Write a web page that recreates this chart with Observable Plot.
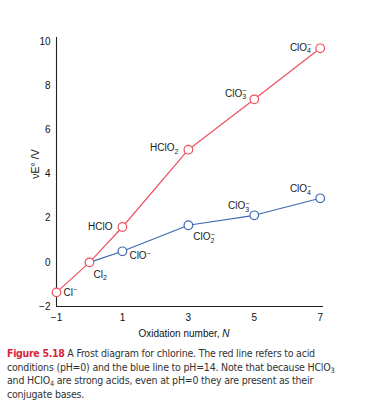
<!DOCTYPE html>
<html><head><meta charset="utf-8">
<script src="https://cdn.jsdelivr.net/npm/d3@7"></script>
<script src="https://cdn.jsdelivr.net/npm/@observablehq/plot@0.6"></script>
<style>
body{margin:0;background:#fff;}
#caption{font-family:"Liberation Sans Narrow","DejaVu Sans Condensed",sans-serif;font-size:10.5px;letter-spacing:-0.2px;line-height:13.7px;color:#333;margin:0 0 0 7px;width:366px;}
#caption b{color:#d7263d;letter-spacing:-0.3px;}
#caption sub{font-size:0.7em;line-height:0;vertical-align:-0.25em;}
</style></head><body>
<div id="chart"></div>
<div id="caption"><b>Figure 5.18</b> A Frost diagram for chlorine. The red line refers to acid<br>conditions (pH=0) and the blue line to pH=14. Note that because HClO<sub>3</sub><br>and HClO<sub>4</sub> are strong acids, even at pH=0 they are present as their<br>conjugate bases.</div>
<script>
// Data
const acidN = [-1, 0, 1, 3, 5, 7];
const acidSpecies = ["Cl-", "Cl2", "HClO", "HClO2", "ClO3-", "ClO4-"];
const acidNE = [-1.36, 0, 1.6, 5.1, 7.38, 9.69];
const baseN = [0, 1, 3, 5, 7];
const baseSpecies = ["Cl2", "ClO-", "ClO2-", "ClO3-", "ClO4-"];
const baseNE = [0, 0.5, 1.68, 2.13, 2.9];
const xTicks = [-1, 1, 3, 5, 7];
const yTicks = [-2, 0, 2, 4, 6, 8, 10];

const RED = "#f0505e";
const BLUE = "#3d69b0";

const acid = acidN.map((n, i) => ({n, e: acidNE[i], name: acidSpecies[i]}));
const base = baseN.map((n, i) => ({n, e: baseNE[i], name: baseSpecies[i]}));

const lab = (rows, i, anchor, dx, dy) => Plot.text([rows[i]], {
  x: "n", y: "e", text: "name", textAnchor: anchor, dx, dy,
  fontSize: 10, fill: "#1a1a1a"
});
const fmt = d => d < 0 ? "\u2212" + Math.abs(d) : String(d);
const X_LABEL = "Oxidation number, N";
const Y_LABEL = "\u03BDE\u00B0 /V";

const chart = Plot.plot({
  width: 375, height: 347,
  marginTop: 37, marginBottom: 41, marginLeft: 56, marginRight: 52,
  style: {fontFamily: "'Liberation Sans', Arial, sans-serif", fontSize: "10px", color: "#111", background: "white"},
  x: {domain: [-1, 7.1]},
  y: {domain: [-2, 10.18]},
  marks: [
    Plot.ruleX([-1], {stroke: "#222", strokeWidth: 1.1}),
    Plot.ruleY([-2], {stroke: "#222", strokeWidth: 1.1}),
    Plot.axisX({ticks: xTicks, tickSize: 0, tickPadding: 7, tickFormat: fmt, fontSize: 10,
      label: X_LABEL, labelAnchor: "center", labelOffset: 30, labelArrow: false}),
    Plot.axisY({ticks: yTicks, tickSize: 0, tickPadding: 6, tickFormat: fmt, fontSize: 10,
      label: Y_LABEL, labelAnchor: "center", labelOffset: 25, labelArrow: false}),
    Plot.line(base, {x: "n", y: "e", stroke: BLUE, strokeWidth: 1.2}),
    Plot.line(acid, {x: "n", y: "e", stroke: RED, strokeWidth: 1.2}),
    Plot.dot(base.slice(1), {x: "n", y: "e", r: 4.3, fill: "white", stroke: BLUE, strokeWidth: 1.2}),
    Plot.dot(acid, {x: "n", y: "e", r: 4.3, fill: "white", stroke: RED, strokeWidth: 1.2}),
    lab(acid, 0, "start", 7, 0),
    lab(acid, 1, "start", 4, 12),
    lab(acid, 2, "end", -10, 0),
    lab(acid, 3, "end", -10, -2),
    lab(acid, 4, "end", -8, -6),
    lab(acid, 5, "end", -9, -1),
    lab(base, 1, "start", 7, 5),
    lab(base, 2, "start", 5, 12),
    lab(base, 3, "end", -5, -9),
    lab(base, 4, "end", -9, -9)
  ]
});
document.getElementById("chart").appendChild(chart);

// rich formatting of chemical labels (subscripts / superscripts)
const NS = "http://www.w3.org/2000/svg";
const species = new Set([...acidSpecies, ...baseSpecies]);
chart.querySelectorAll("text").forEach(t => {
  const s = t.textContent;
  if (species.has(s)) {
    const m = s.match(/^(.*?[A-Za-z])(\d?)(-?)$/);
    t.textContent = m[1];
    if (m[2]) {
      const sub = document.createElementNS(NS, "tspan");
      sub.setAttribute("font-size", "7");
      sub.setAttribute("dy", "2.6");
      sub.textContent = m[2];
      t.appendChild(sub);
    }
    if (m[3]) {
      const sup = document.createElementNS(NS, "tspan");
      sup.setAttribute("font-size", "7");
      sup.setAttribute("dy", m[2] ? "-6.4" : "-3.8");
      if (m[2]) sup.setAttribute("dx", "-3.9");
      sup.textContent = "\u2212";
      t.appendChild(sup);
    }
  } else if (s === X_LABEL) {
    t.textContent = "Oxidation number, ";
    t.setAttribute("dx", "-6");
    const it = document.createElementNS(NS, "tspan");
    it.setAttribute("font-style", "italic");
    it.textContent = "N";
    t.appendChild(it);
  } else if (s === Y_LABEL) {
    t.setAttribute("font-size", "10.5");
    t.setAttribute("dx", "8");
  }
});
</script>
</body></html>
